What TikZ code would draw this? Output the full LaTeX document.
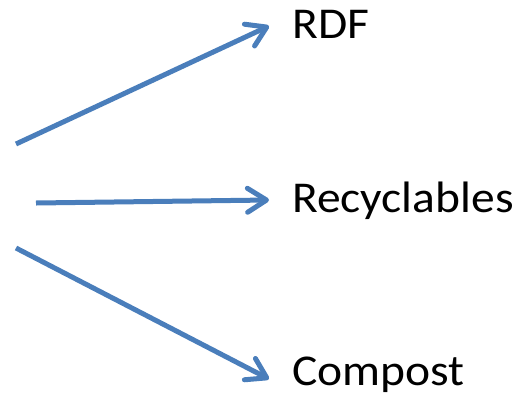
\documentclass[tikz,border=0pt]{standalone}
\usepackage{fontspec}
\setmainfont{Carlito}
\usetikzlibrary{arrows.meta}
\definecolor{arrowblue}{HTML}{4A7EBB}
\newcommand{\widetext}[1]{\scalebox{1.08}[1]{#1}}
\begin{document}
\begin{tikzpicture}[x=1pt,y=-1pt,
  flow/.style={draw=arrowblue,line width=5pt,
    -{Straight Barb[length=19pt,width=24pt,round]}},
  label/.style={anchor=base west,inner sep=0pt,font=\fontsize{44}{50}\selectfont}]
\useasboundingbox (0,0) rectangle (518,394);
\coordinate (s1) at (16,144);
\coordinate (s2) at (36,203);
\coordinate (s3) at (16,248);
\coordinate (t1) at (269,26);
\coordinate (t2) at (269,200);
\coordinate (t3) at (269,379);
\node[label] (rdf) at (292,38.5) {\widetext{RDF}};
\node[label] (rec) at (292,212.5) {\widetext{Recyclables}};
\node[label] (com) at (292,385.5) {\widetext{Compost}};
\draw[flow] (s1) -- (t1);
\draw[flow] (s2) -- (t2);
\draw[flow] (s3) -- (t3);
\end{tikzpicture}
\end{document}
